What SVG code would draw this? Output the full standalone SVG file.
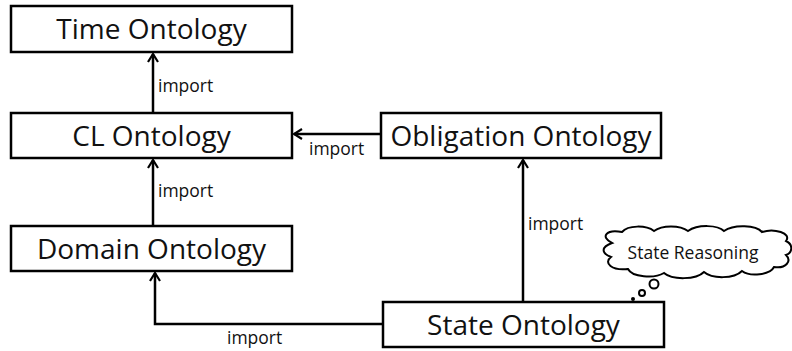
<svg xmlns="http://www.w3.org/2000/svg" width="792" height="351" viewBox="0 0 792 351">
<style>
.box{fill:#fff;stroke:#000;stroke-width:2.5}
.t{font-family:"Open Sans","Liberation Sans",sans-serif;font-size:28px;fill:#111;text-anchor:middle}
.l{font-family:"Open Sans","Liberation Sans",sans-serif;font-size:17.5px;fill:#111}
.c{fill:none;stroke:#000;stroke-width:2.5}
.cl{fill:#fff;stroke:#000;stroke-width:2}
</style>
<defs>
<marker id="a" viewBox="0 0 12 12" refX="10" refY="6" markerWidth="12" markerHeight="12" markerUnits="userSpaceOnUse" orient="auto">
<path d="M2,1 L10,6 L2,11" fill="none" stroke="#000" stroke-width="2.2"/>
</marker>
</defs>
<g id="connectors">
<line class="c" x1="153" y1="113" x2="153" y2="54" marker-end="url(#a)"/>
<text class="l" x="158" y="92">import</text>
<line class="c" x1="153" y1="226" x2="153" y2="160" marker-end="url(#a)"/>
<text class="l" x="158" y="197">import</text>
<line class="c" x1="381" y1="134" x2="294" y2="134" marker-end="url(#a)"/>
<text class="l" x="309" y="155">import</text>
<line class="c" x1="523" y1="302" x2="523" y2="160" marker-end="url(#a)"/>
<text class="l" x="528" y="230">import</text>
<polyline class="c" points="383,324 155,324 155,273" marker-end="url(#a)"/>
<text class="l" x="227" y="344">import</text>
</g>
<g id="time">
<rect class="box" x="11" y="6" width="281" height="46"/>
<text class="t" x="151.5" y="39">Time Ontology</text>
</g>
<g id="cl">
<rect class="box" x="11" y="113" width="281" height="45"/>
<text class="t" x="151.5" y="146">CL Ontology</text>
</g>
<g id="domain">
<rect class="box" x="11" y="226" width="281" height="45"/>
<text class="t" x="151.5" y="259">Domain Ontology</text>
</g>
<g id="obligation">
<rect class="box" x="381" y="113" width="280" height="45"/>
<text class="t" x="521" y="146">Obligation Ontology</text>
</g>
<g id="state">
<rect class="box" x="383" y="302" width="281" height="45"/>
<text class="t" x="523.5" y="335">State Ontology</text>
</g>
<g id="state-reasoning">
<path class="cl" d="M612,243 C600,237 606,229 622,232 C628,225 646,225 654,231 C662,225 680,225 688,231 C698,224 718,225 724,231 C734,224 756,225 762,232 C774,228 792,233 786,241 C794,245 792,253 786,255 C792,261 786,269 774,267 C770,275 750,277 742,271 C734,279 712,279 704,272 C696,280 672,280 664,273 C654,279 632,277 628,269 C612,271 603,263 611,257 C601,253 601,247 612,243 Z"/>
<text class="l" x="693" y="259" text-anchor="middle" font-size="16.5">State Reasoning</text>
<circle class="cl" cx="654" cy="284" r="4.5"/>
<circle class="cl" cx="642" cy="293" r="3"/>
<circle cx="633" cy="299" r="2" fill="#000"/>
</g>
</svg>
